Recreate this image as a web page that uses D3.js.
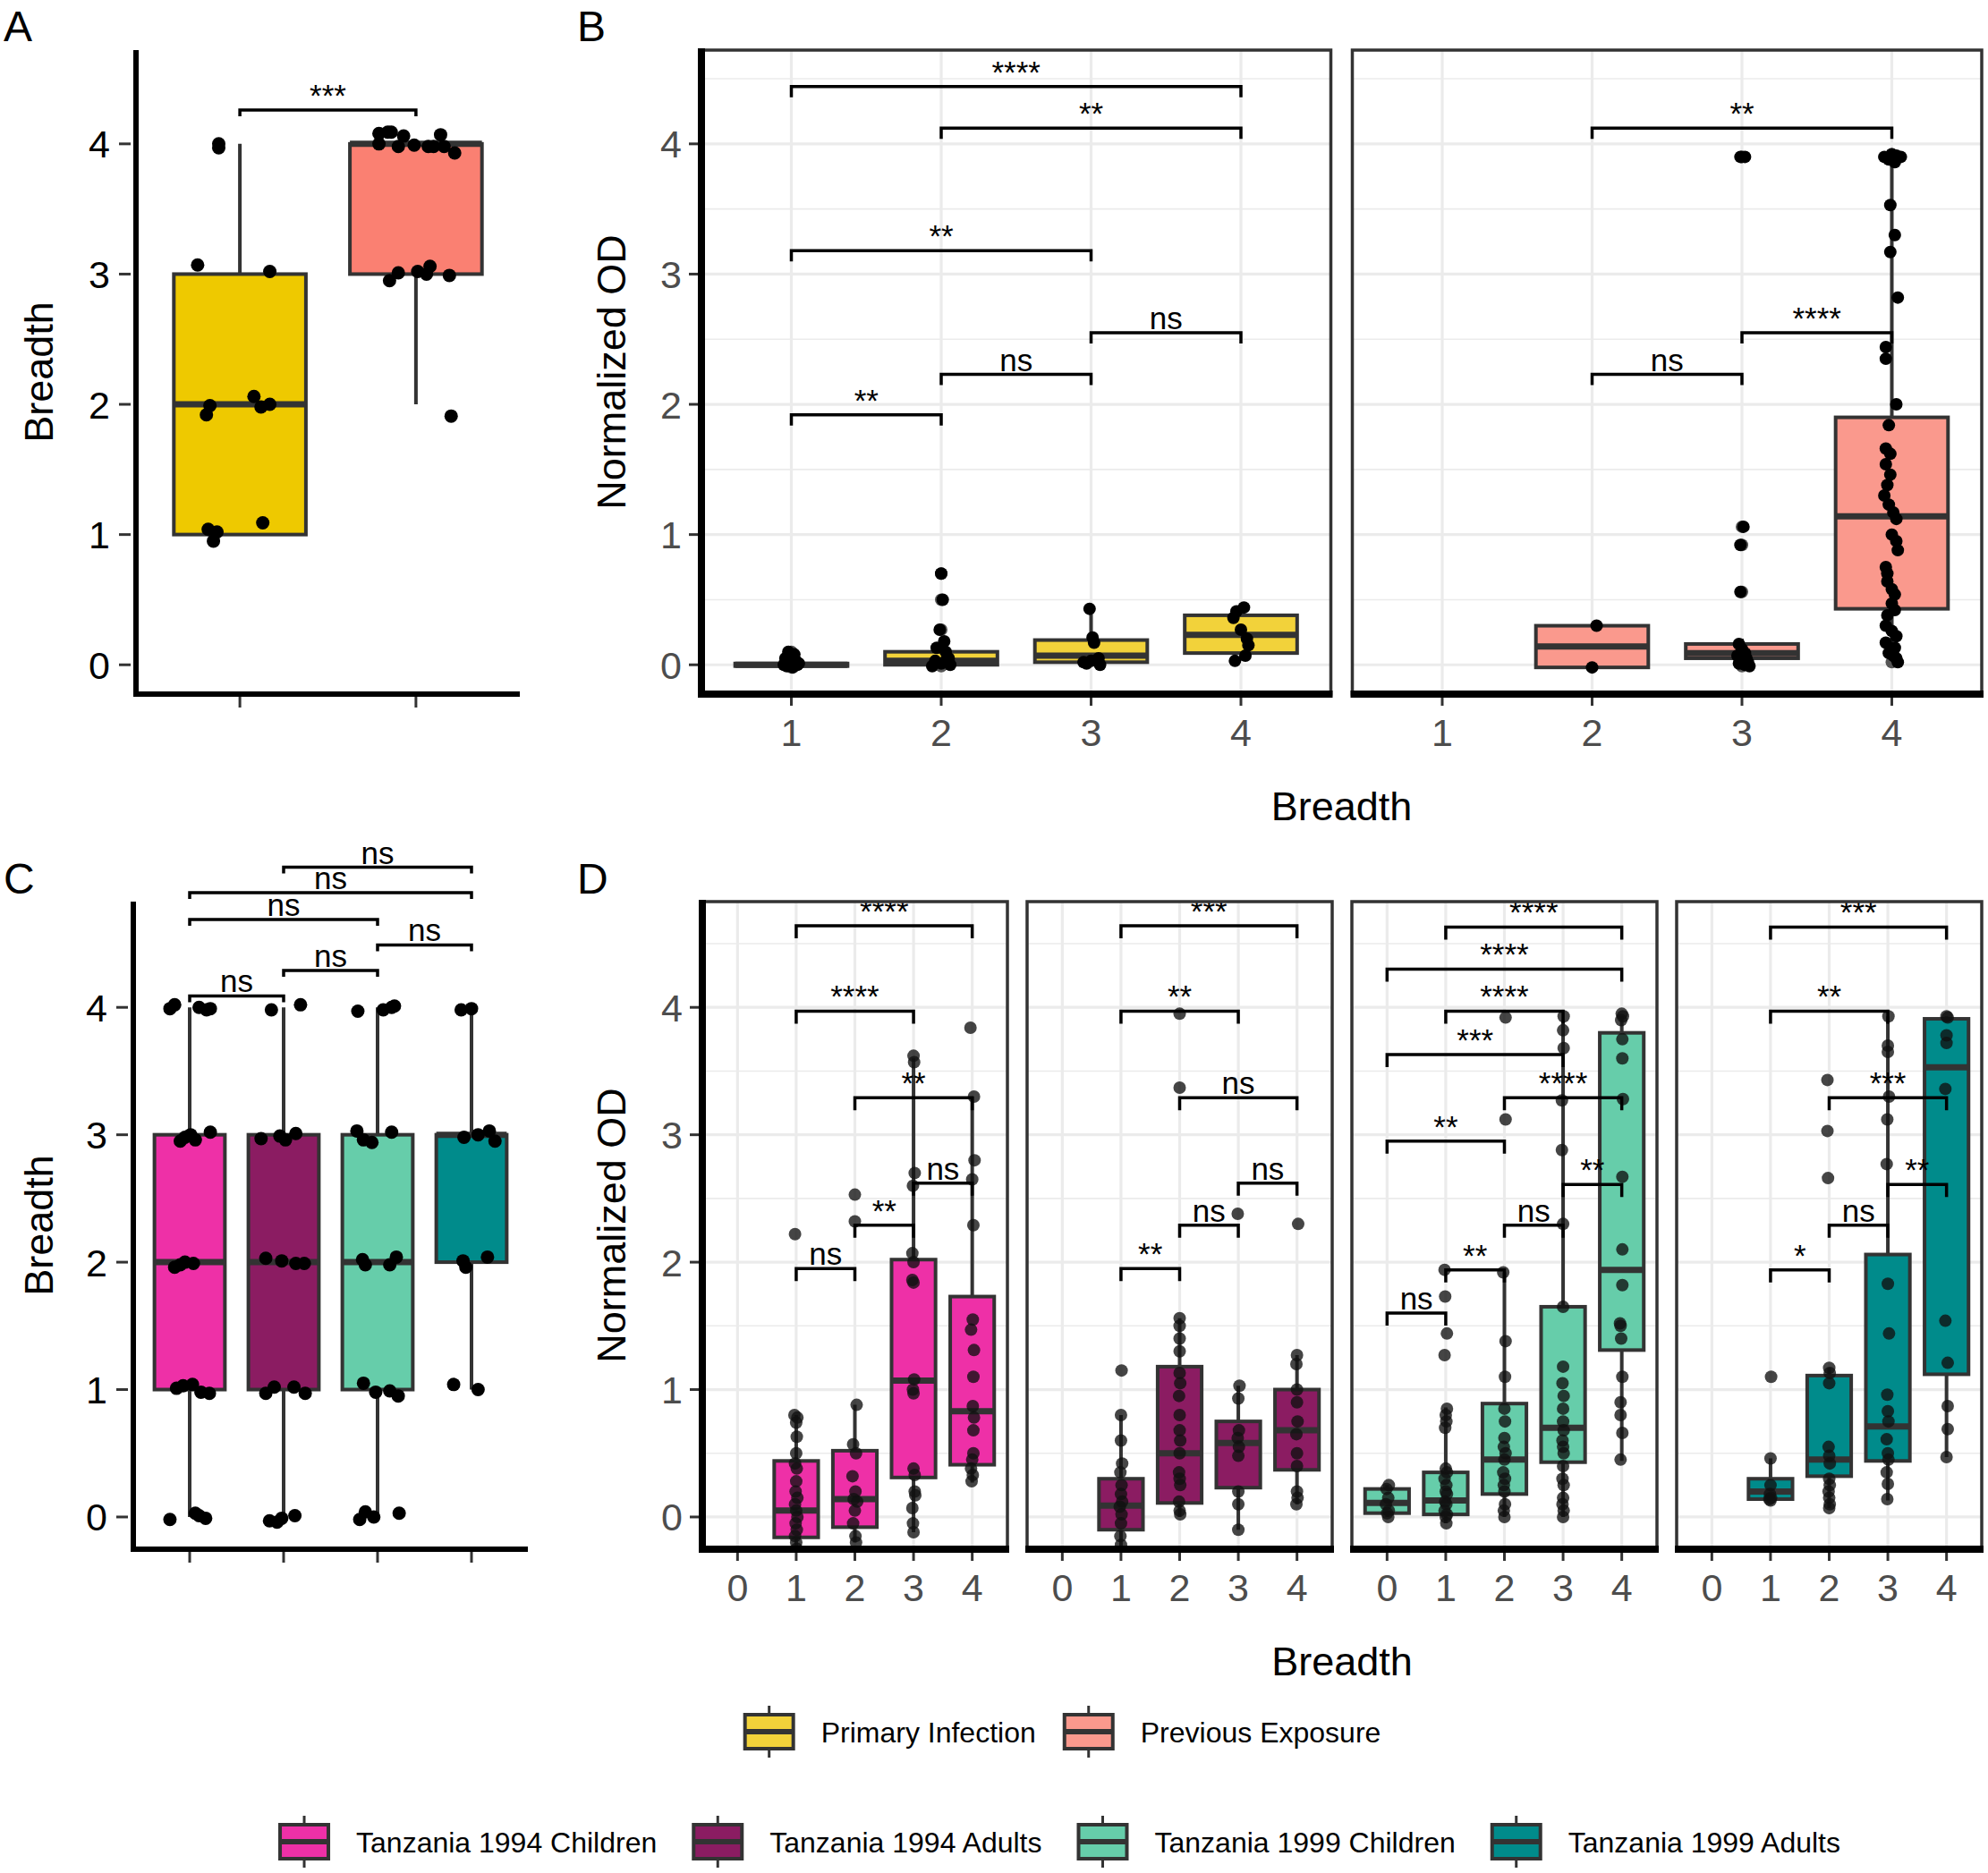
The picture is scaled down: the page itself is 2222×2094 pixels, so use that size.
<!DOCTYPE html>
<html>
<head>
<meta charset="utf-8">
<script src="https://cdnjs.cloudflare.com/ajax/libs/d3/7.8.5/d3.min.js"></script>
<style>
  body { margin: 0; background: #fff; }
</style>
</head>
<body>
<div id="chart"></div>
<script>
// ---------- data ----------
// box stats are [lower whisker, q1, median, q3, upper whisker]
// points are [category, x jitter, value]

// Panel A
const aGroups = ['Primary Infection', 'Previous Exposure'];
const aColors = ['#EEC900', '#FA8072'];
const aStats = [[1, 1, 2, 3, 4], [2, 3, 4, 4, 4]];
const aPoints = [
  [1, -0.12, 4.0], [1, -0.12, 3.97], [1, -0.24, 3.07], [1, 0.17, 3.02], [1, -0.17, 1.99],
  [1, -0.19, 1.92], [1, 0.08, 2.06], [1, 0.12, 1.98], [1, 0.17, 2.0], [1, -0.18, 1.04],
  [1, -0.13, 1.02], [1, -0.15, 0.95], [1, 0.13, 1.09],
  [2, -0.21, 4.08], [2, -0.21, 4.0], [2, -0.16, 4.09], [2, -0.14, 4.09], [2, -0.10, 3.98],
  [2, -0.07, 4.06], [2, -0.01, 3.99], [2, 0.07, 3.98], [2, 0.10, 3.98], [2, 0.14, 4.07],
  [2, 0.16, 3.98], [2, 0.22, 3.93], [2, -0.15, 2.95], [2, -0.10, 3.01], [2, 0.01, 3.02],
  [2, 0.06, 3.0], [2, 0.08, 3.06], [2, 0.19, 2.99], [2, 0.2, 1.91]
];
const aBrackets = [{ from: 1, to: 2, y: 4.26, label: '***' }];

// Panel B
const bCats = [1, 2, 3, 4];
const bColors = ['#F2D23A', '#FA998D'];
const bStats = [
  [[-0.01, -0.01, 0, 0.01, 0.03], [0, 0, 0.03, 0.1, 0.2], [0, 0.02, 0.07, 0.19, 0.43], [0.03, 0.09, 0.23, 0.38, 0.44]],
  [null, [-0.02, -0.02, 0.14, 0.3, 0.3], [0, 0.05, 0.09, 0.16, 0.2], [0.03, 0.43, 1.14, 1.9, 3.9]]
];
const bPoints = [
  [
    [1, -0.02, 0.1], [1, 0.02, 0.08], [1, -0.04, 0.05], [1, 0.03, 0.03], [1, -0.01, 0.02],
    [1, 0.04, 0.0], [1, -0.03, -0.01], [1, 0.01, -0.02], [1, 0.05, 0.01], [1, -0.05, 0.0],
    [2, 0, 0.7], [2, 0.01, 0.5], [2, -0.01, 0.27], [2, 0.02, 0.18], [2, -0.03, 0.13],
    [2, 0.03, 0.1], [2, 0.05, 0.05], [2, -0.04, 0.03], [2, 0, 0.01], [2, 0.06, 0.0],
    [2, -0.06, -0.01], [2, 0.02, 0.02],
    [3, -0.01, 0.43], [3, 0.01, 0.21], [3, 0.02, 0.17], [3, 0.05, 0.05], [3, -0.05, 0.02],
    [3, 0.06, 0.0], [3, -0.03, 0.01], [3, 0, 0.03],
    [4, 0.02, 0.44], [4, -0.03, 0.41], [4, -0.05, 0.36], [4, 0, 0.27], [4, 0.04, 0.2],
    [4, 0.05, 0.15], [4, 0.03, 0.07], [4, -0.04, 0.03]
  ],
  [
    [2, 0.03, 0.3], [2, 0, -0.02],
    [3, -0.01, 3.9], [3, 0.02, 3.9], [3, 0.01, 1.06], [3, -0.01, 0.92], [3, -0.01, 0.56], [3, -0.02, 0.16],
    [3, 0, 0.12], [3, 0.02, 0.09], [3, -0.03, 0.07], [3, 0.03, 0.05], [3, 0, 0.03],
    [3, 0.04, 0.02], [3, -0.02, 0.01], [3, 0.02, 0.0], [3, 0.05, -0.01],
    [4, 0, 3.92], [4, -0.05, 3.9], [4, 0.03, 3.91], [4, 0.06, 3.9], [4, -0.02, 3.88],
    [4, 0.02, 3.86], [4, -0.01, 3.53], [4, 0.02, 3.3], [4, -0.01, 3.17], [4, 0.04, 2.82],
    [4, -0.04, 2.44], [4, -0.04, 2.35], [4, 0.03, 2.0], [4, -0.02, 1.84], [4, -0.04, 1.66],
    [4, -0.01, 1.62], [4, -0.04, 1.54], [4, -0.01, 1.46], [4, -0.03, 1.38], [4, -0.05, 1.3],
    [4, -0.02, 1.23], [4, 0.01, 1.17], [4, 0.03, 1.12], [4, 0, 1.0], [4, 0.03, 0.95],
    [4, 0.04, 0.88], [4, -0.04, 0.75], [4, -0.03, 0.7], [4, -0.03, 0.64], [4, 0, 0.58],
    [4, 0.02, 0.54], [4, 0, 0.47], [4, 0.02, 0.42], [4, -0.03, 0.38], [4, -0.04, 0.3],
    [4, 0, 0.26], [4, 0.03, 0.22], [4, -0.04, 0.17], [4, 0.02, 0.13], [4, -0.02, 0.09],
    [4, 0.01, 0.07], [4, 0.03, 0.05], [4, 0.04, 0.02]
  ]
];
const bBrackets = [
  [
    { from: 1, to: 2, y: 1.92, label: '**' }, { from: 2, to: 3, y: 2.23, label: 'ns' },
    { from: 3, to: 4, y: 2.55, label: 'ns' }, { from: 1, to: 3, y: 3.18, label: '**' },
    { from: 2, to: 4, y: 4.12, label: '**' }, { from: 1, to: 4, y: 4.44, label: '****' }
  ],
  [
    { from: 2, to: 3, y: 2.23, label: 'ns' }, { from: 3, to: 4, y: 2.55, label: '****' },
    { from: 2, to: 4, y: 4.12, label: '**' }
  ]
];

// Panel C
const cGroups = ['Tanzania 1994 Children', 'Tanzania 1994 Adults', 'Tanzania 1999 Children', 'Tanzania 1999 Adults'];
const cColors = ['#EE30A7', '#8B1C62', '#66CDAA', '#008B8B'];
const cStats = [[0, 1, 2, 3, 4], [0, 1, 2, 3, 4], [0, 1, 2, 3, 4], [1, 2, 3, 3, 4]];
const cPoints = [
  [1, -0.21, -0.02], [1, 0.06, 0.03], [1, 0.10, 0.01], [1, 0.17, -0.01],
  [1, -0.21, 3.99], [1, -0.16, 4.02], [1, 0.10, 4.0], [1, 0.18, 3.98], [1, 0.22, 3.99],
  [1, -0.10, 2.95], [1, -0.05, 2.98], [1, 0.01, 3.0], [1, 0.06, 2.96], [1, 0.22, 3.02],
  [1, -0.16, 1.96], [1, -0.10, 1.98], [1, -0.05, 2.0], [1, 0.04, 1.99],
  [1, -0.14, 1.01], [1, -0.07, 1.03], [1, 0.03, 1.04], [1, 0.12, 0.98], [1, 0.21, 0.97],
  [2, -0.15, -0.03], [2, -0.07, -0.04], [2, -0.02, -0.01], [2, 0.12, 0.01],
  [2, -0.13, 3.98], [2, 0.18, 4.02],
  [2, -0.24, 2.97], [2, -0.04, 2.99], [2, 0.02, 2.96], [2, 0.13, 3.01],
  [2, -0.19, 2.03], [2, -0.02, 2.01], [2, 0.13, 1.99], [2, 0.22, 1.99],
  [2, -0.19, 0.97], [2, -0.10, 1.02], [2, 0.11, 1.02], [2, 0.23, 0.97],
  [3, -0.19, -0.02], [3, -0.13, 0.04], [3, -0.04, 0.0], [3, 0.23, 0.03],
  [3, -0.21, 3.97], [3, 0.06, 3.98], [3, 0.15, 4.0], [3, 0.18, 4.01],
  [3, -0.22, 3.03], [3, -0.15, 2.96], [3, -0.06, 2.94], [3, 0.15, 3.02],
  [3, -0.16, 2.02], [3, -0.13, 1.98], [3, 0.13, 1.98], [3, 0.20, 2.04],
  [3, -0.15, 1.05], [3, -0.02, 0.98], [3, 0.13, 0.99], [3, 0.22, 0.95],
  [4, -0.19, 1.04], [4, 0.07, 1.0],
  [4, -0.11, 3.98], [4, 0.0, 3.99],
  [4, -0.08, 2.98], [4, 0.07, 3.0], [4, 0.19, 3.03], [4, 0.25, 2.95],
  [4, -0.09, 2.01], [4, -0.06, 1.96], [4, 0.17, 2.04]
];
const cBrackets = [
  { from: 1, to: 2, y: 4.09, label: 'ns' }, { from: 2, to: 3, y: 4.29, label: 'ns' },
  { from: 3, to: 4, y: 4.49, label: 'ns' }, { from: 1, to: 3, y: 4.69, label: 'ns' },
  { from: 1, to: 4, y: 4.90, label: 'ns' }, { from: 2, to: 4, y: 5.10, label: 'ns' }
];

// Panel D
const dCats = [0, 1, 2, 3, 4];
const dStats = [
  [null, [-0.25, -0.16, 0.05, 0.44, 0.8], [-0.2, -0.08, 0.14, 0.52, 0.88], [-0.12, 0.31, 1.07, 2.02, 3.6], [0.27, 0.41, 0.83, 1.73, 3.3]],
  [null, [-0.25, -0.1, 0.09, 0.3, 0.8], [0.0, 0.11, 0.5, 1.18, 1.56], [-0.1, 0.23, 0.58, 0.75, 1.03], [0.1, 0.37, 0.68, 1.0, 1.27]],
  [[0.0, 0.03, 0.11, 0.22, 0.25], [-0.05, 0.02, 0.13, 0.35, 0.86], [0.0, 0.18, 0.45, 0.89, 1.92], [0.0, 0.43, 0.70, 1.65, 3.9], [0.44, 1.31, 1.94, 3.8, 3.93]],
  [null, [0.13, 0.14, 0.2, 0.3, 0.46], [0.07, 0.32, 0.45, 1.11, 1.17], [0.13, 0.44, 0.71, 2.06, 3.93], [0.47, 1.12, 3.53, 3.91, 3.93]]
];
const dPoints = [
  [
    [1, -0.02, 2.22], [1, -0.03, 0.8], [1, 0.02, 0.78], [1, 0, 0.74], [1, 0.01, 0.63], [1, 0, 0.5],
    [1, -0.02, 0.42], [1, 0.01, 0.38], [1, 0, 0.28], [1, -0.01, 0.2], [1, 0.02, 0.15], [1, -0.02, 0.1],
    [1, 0, 0.05], [1, 0.02, 0.0], [1, -0.01, -0.05], [1, 0.01, -0.1], [1, -0.02, -0.15], [1, 0, -0.2], [1, 0.01, -0.25],
    [2, 0, 2.53], [2, 0, 2.32], [2, 0.03, 0.88], [2, -0.03, 0.57], [2, 0.02, 0.5], [2, -0.04, 0.32],
    [2, 0.01, 0.2], [2, -0.02, 0.14], [2, 0.04, 0.12], [2, 0, 0.05], [2, -0.03, -0.05], [2, 0.01, -0.15], [2, 0.02, -0.2],
    [3, 0, 3.62], [3, 0.01, 3.57], [3, 0.02, 2.7], [3, -0.01, 2.6], [3, -0.02, 2.07], [3, 0, 2.0],
    [3, -0.02, 1.86], [3, 0, 1.84], [3, 0.01, 1.08], [3, -0.01, 1.0], [3, 0, 0.97], [3, 0, 0.38],
    [3, 0.02, 0.33], [3, 0.02, 0.2], [3, 0.03, 0.17], [3, -0.02, 0.07], [3, -0.01, -0.05], [3, 0, -0.12],
    [4, -0.03, 3.84], [4, 0.03, 3.3], [4, 0.04, 2.8], [4, 0, 2.65], [4, 0.02, 2.29], [4, 0.01, 1.55],
    [4, -0.02, 1.47], [4, 0.03, 1.31], [4, 0.02, 1.1], [4, 0.01, 0.87], [4, 0.03, 0.78], [4, 0.02, 0.68],
    [4, 0.02, 0.5], [4, 0, 0.45], [4, -0.02, 0.38], [4, 0.01, 0.33], [4, -0.01, 0.28]
  ],
  [
    [1, 0.01, 1.15], [1, 0, 0.8], [1, 0, 0.6], [1, 0.02, 0.42], [1, -0.01, 0.35], [1, 0.01, 0.25],
    [1, 0, 0.18], [1, 0.02, 0.12], [1, -0.02, 0.08], [1, 0.01, 0.02], [1, 0, -0.05], [1, -0.01, -0.15], [1, 0, -0.22],
    [2, 0, 3.95], [2, 0, 3.37], [2, 0, 1.56], [2, 0, 1.5], [2, 0, 1.4], [2, 0, 1.3], [2, 0, 1.13],
    [2, 0.01, 1.05], [2, -0.01, 0.95], [2, 0, 0.8], [2, 0, 0.68], [2, 0.01, 0.6], [2, 0, 0.5],
    [2, -0.01, 0.35], [2, 0, 0.3], [2, 0.01, 0.25], [2, -0.01, 0.12], [2, 0, 0.05], [2, 0.01, 0.02],
    [3, -0.01, 2.38], [3, 0.02, 1.03], [3, 0, 0.93], [3, 0.01, 0.68], [3, -0.01, 0.62], [3, 0.01, 0.55],
    [3, 0, 0.48], [3, 0, 0.2], [3, 0, 0.1], [3, 0, -0.1],
    [4, 0.02, 2.3], [4, 0, 1.27], [4, -0.01, 1.2], [4, 0, 1.0], [4, 0, 0.9], [4, 0.01, 0.75],
    [4, -0.01, 0.65], [4, 0, 0.5], [4, 0, 0.4], [4, 0, 0.2], [4, 0.01, 0.15], [4, -0.01, 0.1]
  ],
  [
    [0, 0.03, 0.25], [0, -0.01, 0.22], [0, 0.02, 0.15], [0, -0.02, 0.1], [0, 0.03, 0.05], [0, 0, 0.03], [0, 0.02, 0.0],
    [1, -0.02, 1.94], [1, -0.01, 1.73], [1, 0.02, 1.44], [1, -0.02, 1.27], [1, 0.02, 0.85], [1, 0, 0.8],
    [1, 0.01, 0.75], [1, -0.01, 0.7], [1, 0, 0.38], [1, 0.02, 0.35], [1, -0.02, 0.3], [1, 0.01, 0.25],
    [1, 0, 0.2], [1, 0.02, 0.18], [1, -0.01, 0.12], [1, 0.01, 0.1], [1, -0.02, 0.05], [1, 0.02, 0.02],
    [1, 0, 0.0], [1, 0.01, -0.05],
    [2, 0.02, 3.92], [2, 0.02, 3.12], [2, -0.02, 1.92], [2, 0.02, 1.38], [2, 0.01, 1.1], [2, 0, 0.85],
    [2, 0.01, 0.75], [2, 0, 0.62], [2, -0.01, 0.55], [2, 0.02, 0.5], [2, 0, 0.45], [2, -0.02, 0.35],
    [2, 0.01, 0.3], [2, -0.01, 0.25], [2, 0, 0.2], [2, 0.01, 0.1], [2, -0.01, 0.05], [2, 0, 0.0],
    [3, 0.01, 3.93], [3, 0, 3.82], [3, 0.01, 3.68], [3, -0.02, 3.27], [3, -0.02, 2.88], [3, 0, 2.3],
    [3, 0, 1.65], [3, 0, 1.18], [3, -0.01, 1.05], [3, 0.01, 0.95], [3, 0, 0.85], [3, 0, 0.75],
    [3, 0.01, 0.68], [3, -0.01, 0.6], [3, 0, 0.55], [3, 0.01, 0.5], [3, 0, 0.4], [3, -0.01, 0.3],
    [3, 0.01, 0.25], [3, 0, 0.15], [3, -0.01, 0.1], [3, 0.01, 0.05], [3, 0, 0.0],
    [4, 0, 3.95], [4, 0.02, 3.93], [4, -0.01, 3.9], [4, 0.01, 3.75], [4, 0.01, 3.6], [4, 0.02, 3.28],
    [4, 0.01, 2.67], [4, 0.01, 2.1], [4, 0.01, 1.82], [4, -0.03, 1.52], [4, -0.02, 1.5], [4, -0.01, 1.4],
    [4, 0.01, 1.1], [4, -0.02, 0.9], [4, -0.02, 0.8], [4, 0.01, 0.66], [4, -0.02, 0.45]
  ],
  [
    [1, 0.01, 1.1], [1, 0, 0.46], [1, 0, 0.25], [1, -0.01, 0.18], [1, 0.01, 0.15], [1, -0.02, 0.14], [1, 0, 0.13],
    [2, -0.03, 3.43], [2, -0.03, 3.03], [2, -0.02, 2.66], [2, 0, 1.17], [2, 0.01, 1.13], [2, 0, 1.05],
    [2, -0.01, 0.55], [2, 0, 0.48], [2, 0.01, 0.42], [2, 0, 0.3], [2, 0.01, 0.25], [2, -0.01, 0.2],
    [2, 0, 0.15], [2, 0.01, 0.1], [2, 0, 0.07],
    [3, 0.01, 3.93], [3, 0, 3.7], [3, 0, 3.65], [3, 0.02, 3.3], [3, -0.01, 3.12], [3, -0.02, 2.77],
    [3, 0, 1.83], [3, 0.02, 1.44], [3, -0.01, 0.96], [3, 0, 0.83], [3, 0.01, 0.75], [3, -0.02, 0.61],
    [3, 0, 0.5], [3, 0.01, 0.45], [3, -0.02, 0.35], [3, 0, 0.26], [3, -0.01, 0.14],
    [4, 0, 3.93], [4, 0.02, 3.92], [4, 0, 3.78], [4, 0, 3.72], [4, -0.02, 3.36],
    [4, -0.02, 1.54], [4, 0.02, 1.21], [4, 0.02, 0.87], [4, 0.02, 0.69], [4, 0, 0.47]
  ]
];
const dBrackets = [
  [
    { from: 1, to: 2, y: 1.95, label: 'ns' }, { from: 2, to: 3, y: 2.29, label: '**' },
    { from: 3, to: 4, y: 2.62, label: 'ns' }, { from: 2, to: 4, y: 3.29, label: '**' },
    { from: 1, to: 3, y: 3.97, label: '****' }, { from: 1, to: 4, y: 4.64, label: '****' }
  ],
  [
    { from: 1, to: 2, y: 1.95, label: '**' }, { from: 2, to: 3, y: 2.29, label: 'ns' },
    { from: 3, to: 4, y: 2.62, label: 'ns' }, { from: 2, to: 4, y: 3.29, label: 'ns' },
    { from: 1, to: 3, y: 3.97, label: '**' }, { from: 1, to: 4, y: 4.64, label: '***' }
  ],
  [
    { from: 0, to: 1, y: 1.60, label: 'ns' }, { from: 1, to: 2, y: 1.94, label: '**' },
    { from: 2, to: 3, y: 2.29, label: 'ns' }, { from: 3, to: 4, y: 2.61, label: '**' },
    { from: 0, to: 2, y: 2.95, label: '**' }, { from: 2, to: 4, y: 3.29, label: '****' },
    { from: 0, to: 3, y: 3.63, label: '***' }, { from: 1, to: 3, y: 3.97, label: '****' },
    { from: 0, to: 4, y: 4.30, label: '****' }, { from: 1, to: 4, y: 4.63, label: '****' }
  ],
  [
    { from: 1, to: 2, y: 1.94, label: '*' }, { from: 2, to: 3, y: 2.29, label: 'ns' },
    { from: 3, to: 4, y: 2.61, label: '**' }, { from: 2, to: 4, y: 3.29, label: '***' },
    { from: 1, to: 3, y: 3.97, label: '**' }, { from: 1, to: 4, y: 4.63, label: '***' }
  ]
];
const yTicks = [0, 1, 2, 3, 4];
const yMinor = [0.5, 1.5, 2.5, 3.5, 4.5];

// ---------- drawing ----------
const W = 2222, H = 2094;
const FONT = '"Liberation Sans", Arial, Helvetica, sans-serif';
const INK = '#333333';
const GRID = '#EBEBEB';

const svg = d3.select('#chart').append('svg')
  .attr('width', W).attr('height', H)
  .style('background', '#fff')
  .style('font-family', FONT);
const defs = svg.append('defs');

const row1 = { top: 56, bottom: 776, domain: [-0.225, 4.72] };
const row2 = { top: 1008, bottom: 1732, domain: [-0.253, 4.83] };

function drawBox(g, x, y, cat, s, fill) {
  if (!s) return;
  const cx = x(cat);
  const hw = (x(1) - x(0)) * 0.75 / 2;
  g.append('line')
    .attr('x1', cx).attr('x2', cx)
    .attr('y1', y(s[0])).attr('y2', y(s[4]))
    .attr('stroke', INK).attr('stroke-width', 4);
  g.append('rect')
    .attr('x', cx - hw).attr('width', hw * 2)
    .attr('y', y(s[3])).attr('height', Math.max(0, y(s[1]) - y(s[3])))
    .attr('fill', fill).attr('stroke', INK).attr('stroke-width', 4);
  g.append('line')
    .attr('x1', cx - hw).attr('x2', cx + hw)
    .attr('y1', y(s[2])).attr('y2', y(s[2]))
    .attr('stroke', INK).attr('stroke-width', 7);
}

// boxplot outliers sit at the category centre, under the jittered points
function drawOutliers(g, x, y, stats, cats, pts, r) {
  const out = pts.filter(d => {
    const s = stats[cats.indexOf(d[0])];
    return s && (d[2] > s[4] || d[2] < s[0]);
  });
  g.append('g').selectAll('circle')
    .data(out)
    .enter()
    .append('circle')
    .attr('cx', d => x(d[0]))
    .attr('cy', d => y(d[2]))
    .attr('r', r)
    .attr('fill', '#555');
}

function drawPoints(g, x, y, pts, r, fill, opacity) {
  g.append('g').selectAll('circle')
    .data(pts)
    .enter()
    .append('circle')
    .attr('cx', d => x(d[0] + d[1]))
    .attr('cy', d => y(d[2]))
    .attr('r', r)
    .attr('fill', fill)
    .attr('fill-opacity', opacity);
}

function drawBrackets(g, x, y, brackets, tip) {
  brackets.forEach(b => {
    const x1 = x(b.from), x2 = x(b.to), yy = y(b.y);
    g.append('path')
      .attr('d', `M${x1},${yy + tip}V${yy}H${x2}V${yy + tip}`)
      .attr('fill', 'none').attr('stroke', '#000').attr('stroke-width', 3.5);
    g.append('text')
      .attr('x', (x1 + x2) / 2).attr('y', yy - 4)
      .attr('text-anchor', 'middle')
      .attr('font-size', 35).attr('fill', '#000')
      .text(b.label);
  });
}

function yAxisClassic(g, left, y) {
  yTicks.forEach(t => {
    g.append('line').attr('x1', left - 16).attr('x2', left - 3)
      .attr('y1', y(t)).attr('y2', y(t))
      .attr('stroke', INK).attr('stroke-width', 3);
    g.append('text').attr('x', left - 26).attr('y', y(t) + 15.5)
      .attr('text-anchor', 'end').attr('font-size', 43).attr('fill', '#000')
      .text(t);
  });
}

// simple classic panel (A and C)
function classicPanel(opts) {
  const g = svg.append('g');
  const x = d3.scaleLinear().domain(opts.xDomain).range([opts.left, opts.right]);
  const y = d3.scaleLinear().domain(opts.row.domain).range([opts.row.bottom, opts.row.top]);
  opts.stats.forEach((s, i) => drawBox(g, x, y, i + 1, s, opts.colors[i]));
  drawPoints(g, x, y, opts.points, 7.5, '#000', 1);
  drawBrackets(g, x, y, opts.brackets, 7);
  // axis lines
  g.append('line').attr('x1', opts.left).attr('x2', opts.left)
    .attr('y1', opts.row.top).attr('y2', opts.row.bottom + 3)
    .attr('stroke', '#000').attr('stroke-width', 6);
  g.append('line').attr('x1', opts.left - 3).attr('x2', opts.right)
    .attr('y1', opts.row.bottom).attr('y2', opts.row.bottom)
    .attr('stroke', '#000').attr('stroke-width', 6);
  yAxisClassic(g, opts.left - 3, y);
  opts.stats.forEach((s, i) => {
    g.append('line').attr('x1', x(i + 1)).attr('x2', x(i + 1))
      .attr('y1', opts.row.bottom + 3).attr('y2', opts.row.bottom + 15)
      .attr('stroke', INK).attr('stroke-width', 3);
  });
  g.append('text')
    .attr('transform', `translate(${opts.titleX},${(opts.row.top + opts.row.bottom) / 2}) rotate(-90)`)
    .attr('text-anchor', 'middle').attr('dominant-baseline', 'central')
    .attr('font-size', 45).attr('fill', '#000')
    .text('Breadth');
}

// faceted bw panel (B and D)
function facetPanel(opts) {
  const n = opts.stats.length;
  const gap = opts.gap;
  const fw = (opts.right - opts.left - gap * (n - 1)) / n;
  const y = d3.scaleLinear().domain(opts.row.domain).range([opts.row.bottom, opts.row.top]);
  for (let f = 0; f < n; f++) {
    const x0 = opts.left + f * (fw + gap), x1 = x0 + fw;
    const x = d3.scaleLinear().domain(opts.xDomain).range([x0, x1]);
    const g = svg.append('g');
    const clipId = `${opts.id}-clip-${f}`;
    defs.append('clipPath').attr('id', clipId)
      .append('rect').attr('x', x0).attr('y', opts.row.top)
      .attr('width', fw).attr('height', opts.row.bottom - opts.row.top);
    const inner = g.append('g').attr('clip-path', `url(#${clipId})`);
    // grid
    yMinor.forEach(t => inner.append('line')
      .attr('x1', x0).attr('x2', x1).attr('y1', y(t)).attr('y2', y(t))
      .attr('stroke', GRID).attr('stroke-width', 1.6));
    yTicks.forEach(t => inner.append('line')
      .attr('x1', x0).attr('x2', x1).attr('y1', y(t)).attr('y2', y(t))
      .attr('stroke', GRID).attr('stroke-width', 3.2));
    opts.cats.forEach(c => inner.append('line')
      .attr('x1', x(c)).attr('x2', x(c)).attr('y1', opts.row.top).attr('y2', opts.row.bottom)
      .attr('stroke', GRID).attr('stroke-width', 3.2));
    // boxes, points, brackets
    opts.stats[f].forEach((s, i) => drawBox(inner, x, y, opts.cats[i], s, opts.colors[f]));
    if (opts.outliers) drawOutliers(inner, x, y, opts.stats[f], opts.cats, opts.points[f], 7);
    drawPoints(inner, x, y, opts.points[f], 7, opts.pointFill, opts.pointOpacity);
    drawBrackets(inner, x, y, opts.brackets[f], opts.tip);
    // border
    g.append('rect').attr('x', x0).attr('y', opts.row.top)
      .attr('width', fw).attr('height', opts.row.bottom - opts.row.top)
      .attr('fill', 'none').attr('stroke', INK).attr('stroke-width', 3.5);
    // x axis line, ticks, labels
    g.append('line').attr('x1', f === 0 ? x0 - 4 : x0 - 2).attr('x2', x1 + 2)
      .attr('y1', opts.row.bottom).attr('y2', opts.row.bottom)
      .attr('stroke', '#000').attr('stroke-width', 8);
    opts.cats.forEach(c => {
      g.append('line').attr('x1', x(c)).attr('x2', x(c))
        .attr('y1', opts.row.bottom + 4).attr('y2', opts.row.bottom + 13)
        .attr('stroke', INK).attr('stroke-width', 3);
      g.append('text').attr('x', x(c)).attr('y', opts.row.bottom + 58)
        .attr('text-anchor', 'middle').attr('font-size', 43).attr('fill', '#4D4D4D')
        .text(c);
    });
    if (f === 0) {
      g.append('line').attr('x1', x0).attr('x2', x0)
        .attr('y1', opts.row.top - 2).attr('y2', opts.row.bottom + 4)
        .attr('stroke', '#000').attr('stroke-width', 8);
      yTicks.forEach(t => {
        g.append('line').attr('x1', x0 - 14).attr('x2', x0 - 4)
          .attr('y1', y(t)).attr('y2', y(t))
          .attr('stroke', INK).attr('stroke-width', 3);
        g.append('text').attr('x', x0 - 22).attr('y', y(t) + 15.5)
          .attr('text-anchor', 'end').attr('font-size', 43).attr('fill', '#4D4D4D')
          .text(t);
      });
    }
  }
  svg.append('text')
    .attr('transform', `translate(683,${(opts.row.top + opts.row.bottom) / 2}) rotate(-90)`)
    .attr('text-anchor', 'middle').attr('dominant-baseline', 'central')
    .attr('font-size', 45).attr('fill', '#000')
    .text('Normalized OD');
  svg.append('text')
    .attr('x', (opts.left + opts.right) / 2).attr('y', opts.row.bottom + 141)
    .attr('text-anchor', 'middle').attr('font-size', 45).attr('fill', '#000')
    .text('Breadth');
}

classicPanel({ left: 152, right: 581, row: row1, xDomain: [0.41, 2.59],
  stats: aStats, colors: aColors, points: aPoints, brackets: aBrackets, titleX: 43 });
classicPanel({ left: 149, right: 590, row: row2, xDomain: [0.4, 4.6],
  stats: cStats, colors: cColors, points: cPoints, brackets: cBrackets, titleX: 43 });

facetPanel({ id: 'b', left: 784, right: 2215, gap: 24, row: row1, xDomain: [0.4, 4.6],
  cats: bCats, stats: bStats, colors: bColors, points: bPoints, brackets: bBrackets,
  tip: 12, pointFill: '#000', pointOpacity: 1, outliers: true });
facetPanel({ id: 'd', left: 785, right: 2215, gap: 22, row: row2, xDomain: [-0.6, 4.6],
  cats: dCats, stats: dStats, colors: cColors, points: dPoints, brackets: dBrackets,
  tip: 14, pointFill: '#111', pointOpacity: 0.78, outliers: false });

// panel letters
[['A', 4, 46], ['B', 645, 46], ['C', 4, 999], ['D', 645, 999]].forEach(([t, lx, ly]) => {
  svg.append('text').attr('x', lx).attr('y', ly)
    .attr('font-size', 48).attr('fill', '#000').text(t);
});

// legends
function legend(labels, colors, cy, centerX, itemGap) {
  const g = svg.append('g');
  const keyW = 54, keyH = 38, textGap = 31;
  const widths = labels.map(l => {
    const t = g.append('text').attr('font-size', 32).text(l);
    const w = t.node().getComputedTextLength();
    t.remove();
    return w;
  });
  const total = d3.sum(widths) + labels.length * (keyW + textGap) + (labels.length - 1) * itemGap;
  let cx = centerX - total / 2;
  labels.forEach((l, i) => {
    const kx = cx + keyW / 2;
    g.append('line').attr('x1', kx).attr('x2', kx)
      .attr('y1', cy - keyH / 2 - 10).attr('y2', cy + keyH / 2 + 10)
      .attr('stroke', INK).attr('stroke-width', 3);
    g.append('rect').attr('x', cx).attr('y', cy - keyH / 2)
      .attr('width', keyW).attr('height', keyH)
      .attr('fill', colors[i]).attr('stroke', INK).attr('stroke-width', 4);
    g.append('line').attr('x1', cx).attr('x2', cx + keyW)
      .attr('y1', cy).attr('y2', cy)
      .attr('stroke', INK).attr('stroke-width', 6);
    g.append('text').attr('x', cx + keyW + textGap).attr('y', cy + 11.5)
      .attr('font-size', 32).attr('fill', '#000').text(l);
    cx += keyW + textGap + widths[i] + itemGap;
  });
}
legend(aGroups, bColors, 1936, 1188, 32);
legend(cGroups, cColors, 2059, 1185, 41);
</script>
</body>
</html>
